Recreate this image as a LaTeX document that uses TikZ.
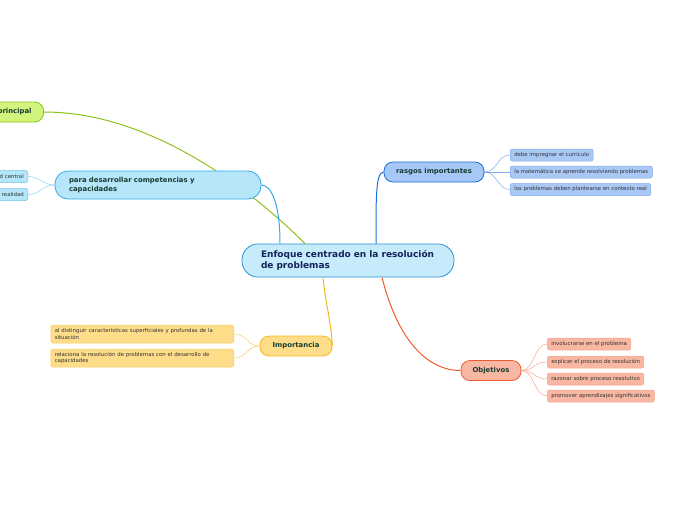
\documentclass[tikz,border=0pt]{standalone}
\usepackage{fontspec}
\setmainfont{DejaVu Sans}
\usetikzlibrary{positioning,backgrounds}

\definecolor{ctrfill}{HTML}{C6EBFB}
\definecolor{ctrdraw}{HTML}{2B8FD6}
\definecolor{ctrtext}{HTML}{13235A}
\definecolor{toptext}{HTML}{173B30}
\definecolor{leaftext}{HTML}{333333}
\definecolor{grnfill}{HTML}{D2F37C}
\definecolor{grndraw}{HTML}{8CC21A}
\definecolor{cyanfill}{HTML}{B5E6FA}
\definecolor{cyandraw}{HTML}{37A8E8}
\definecolor{cyantwig}{HTML}{8FD3F4}
\definecolor{bluefill}{HTML}{A6C8F7}
\definecolor{bluedraw}{HTML}{1C6FD6}
\definecolor{bluelfill}{HTML}{AAC8F6}
\definecolor{bluetwig}{HTML}{7FA9EC}
\definecolor{yelfill}{HTML}{FEDD8A}
\definecolor{yeldraw}{HTML}{F6B822}
\definecolor{yeltwig}{HTML}{FBCF66}
\definecolor{redfill}{HTML}{F8B7A3}
\definecolor{reddraw}{HTML}{F05A2E}
\definecolor{redtwig}{HTML}{F7A58C}

\begin{document}
\begin{tikzpicture}[
        x=1pt, y=-1pt,
        mainnode/.style = {rectangle, rounded corners=16pt, draw=ctrdraw, fill=ctrfill, line width=0.8pt, minimum width=212pt, minimum height=33pt, text width=174pt, align=left, text=ctrtext, font=\fontsize{9}{10.5}\selectfont\bfseries},
        topicnode/.style = {rectangle, rounded corners=9pt, line width=0.8pt, minimum height=20pt, text=toptext, font=\fontsize{6.9}{8.6}\selectfont\bfseries},
        leafnode/.style = {rectangle, rounded corners=2pt, line width=0.5pt, minimum height=12pt, inner xsep=4pt, inner ysep=2pt, anchor=west, align=left, text=leaftext, font=\fontsize{5.4}{6.6}\selectfont},
        link/.style = {line width=1pt},
        twig/.style = {line width=0.5pt}
        ]
        \useasboundingbox (0,0) rectangle (696,520);

        % centre
        \node[mainnode] (ctr) at (348,260.5) {Enfoque centrado en la resolución\\de problemas};

        % main topics
        \node[topicnode, draw=grndraw, fill=grnfill, anchor=east, inner xsep=12pt, text width=60pt, align=right] (prin) at (44,112) {principal};
        \node[topicnode, draw=cyandraw, fill=cyanfill, rounded corners=13pt, minimum width=206pt, minimum height=28pt, text width=178pt, align=left] (para) at (158,185) {para desarrollar competencias y\\capacidades};
        \node[topicnode, draw=bluedraw, fill=bluefill, minimum width=100pt] (rasg) at (434,172) {rasgos importantes};
        \node[topicnode, draw=yeldraw, fill=yelfill, minimum width=72pt] (impo) at (296,346) {Importancia};
        \node[topicnode, draw=reddraw, fill=redfill, minimum width=60pt] (obje) at (491,370.5) {Objetivos};

        % leaves of para
        \node[leafnode, draw=cyandraw!70, fill=cyanfill, anchor=east, text width=40pt, align=right] (para1) at (28,176.5) {d central};
        \node[leafnode, draw=cyandraw!70, fill=cyanfill, anchor=east, text width=40pt, align=right] (para2) at (28,194.5) {realidad};

        % leaves of rasgos
        \node[leafnode, draw=bluetwig, fill=bluelfill] (rasg1) at (510,155) {debe impregnar el currículo};
        \node[leafnode, draw=bluetwig, fill=bluelfill] (rasg2) at (510,172) {la matemática se aprende resolviendo problemas};
        \node[leafnode, draw=bluetwig, fill=bluelfill] (rasg3) at (510,189.5) {los problemas deben plantearse en contexto real};

        % leaves of importancia
        \node[leafnode, draw=yeltwig, fill=yelfill, anchor=east, minimum width=183pt, minimum height=18pt, text width=175pt] (impo1) at (234,334) {al distinguir características superficiales y profundas de la\\situación};
        \node[leafnode, draw=yeltwig, fill=yelfill, anchor=east, minimum width=183pt, minimum height=18pt, text width=175pt] (impo2) at (234,358) {relaciona la resolución de problemas con el desarrollo de\\capacidades};

        % leaves of objetivos
        \node[leafnode, draw=redtwig, fill=redfill] (obje1) at (547,344) {involucrarse en el problema};
        \node[leafnode, draw=redtwig, fill=redfill] (obje2) at (547,362) {explicar el proceso de resolución};
        \node[leafnode, draw=redtwig, fill=redfill] (obje3) at (547,379) {razonar sobre proceso resolutivo};
        \node[leafnode, draw=redtwig, fill=redfill] (obje4) at (547,396) {promover aprendizajes significativos};

        % links from the centre, behind the nodes
        \begin{pgfonlayer}{background}
        \draw[link, draw=grndraw] (prin.east) .. controls +(110,0) and +(-50,-50) .. ([xshift=-43pt]ctr.north);
        \draw[link, draw=cyandraw] (para.east) .. controls +(10,0) and +(0,-40) .. ([xshift=-68pt]ctr.north);
        \draw[link, draw=bluedraw] ([xshift=28pt]ctr.north) .. controls +(0,-45) and +(-8,0) .. (rasg.west);
        \draw[link, draw=yeldraw] ([xshift=-25pt]ctr.south) .. controls +(3,30) and +(-2,-30) .. (impo.east);
        \draw[link, draw=reddraw] ([xshift=34pt]ctr.south) .. controls +(15,60) and +(-35,0) .. (obje.west);

        % twigs
        \foreach \i in {1,2} \draw[twig, draw=cyantwig] (para.west) .. controls +(-12,0) and +(12,0) .. (para\i.east);
        \foreach \i in {1,2,3} \draw[twig, draw=bluetwig] (rasg.east) .. controls +(13,0) and +(-13,0) .. (rasg\i.west);
        \foreach \i in {1,2} \draw[twig, draw=yeltwig] (impo.west) .. controls +(-13,0) and +(13,0) .. (impo\i.east);
        \foreach \i in {1,2,3,4} \draw[twig, draw=redtwig] (obje.east) .. controls +(13,0) and +(-13,0) .. (obje\i.west);
        \end{pgfonlayer}
\end{tikzpicture}
\end{document}
